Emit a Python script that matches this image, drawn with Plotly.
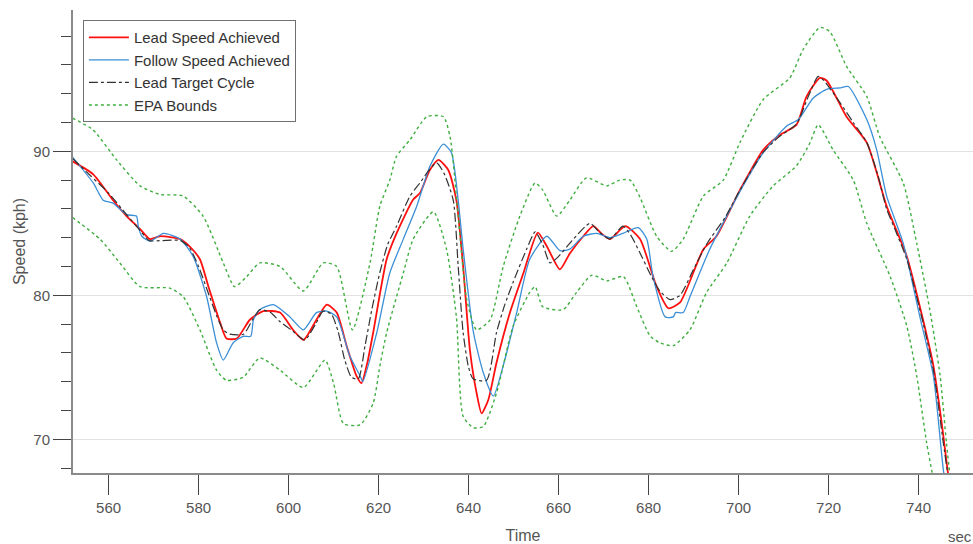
import plotly.graph_objects as go

# ---- data ----
target_time = [552, 556, 560, 564, 567, 569, 572, 576, 578, 580, 582, 584, 585.5, 587, 590, 592, 593.6, 596, 598, 601,
               603.6, 606, 607.7, 609.5, 611, 612.5, 614, 615.5, 617, 618.5, 620.3, 622, 624, 627, 629.2, 631, 632.9,
               634.5, 636.6, 637.7, 638.8, 640, 641, 644, 646.2, 648, 649.9, 652.9, 654.8, 656.5, 658.1, 660, 663,
               667, 669, 671.4, 674.3, 676, 678, 680.5, 682.5, 684.8, 687, 690, 693, 697, 700.3, 705.4, 709, 712.9,
               715.5, 717.7, 719, 722.5, 725.5, 728.5, 731, 732.9, 735, 737.4, 739, 741, 743.3, 745.5, 747]
target_speed = [89.5, 88.3, 87.1, 85.6, 84.5, 83.8, 83.8, 83.8, 83.3, 82.0, 80.3, 78.6, 77.6, 77.3, 77.3, 78.3, 79.0,
                78.8, 78.2, 77.5, 76.9, 78.0, 78.9, 78.7, 77.5, 75.5, 74.3, 74.2, 76.5, 79.0, 81.6, 83.5, 84.8, 86.9,
                87.8, 88.6, 89.2, 88.5, 86.6, 82.0, 77.4, 75.0, 74.2, 74.1, 77.4, 79.3, 80.9, 83.2, 84.4, 83.5, 82.25,
                82.7, 83.8, 85.0, 84.4, 83.9, 84.8, 84.2, 83.0, 81.4, 80.3, 79.7, 80.0, 81.8, 83.6, 85.4, 87.3, 89.9,
                91.0, 91.9, 93.8, 95.2, 94.9, 93.4, 92.0, 90.6, 88.3, 86.0, 84.4, 82.5, 80.6, 78.1, 74.8, 69.75, 66.5]

lead_time = [552, 556.6, 561, 564, 567, 569.2, 571.4, 575.9, 578, 580.3, 582.2, 584.8, 586.2, 588.5, 591.4, 594.4,
             598.1, 601, 603.3, 606.2, 608.5, 610.7, 612.9, 615.1, 616.2, 617.5, 618.8, 621.8, 624, 627.7, 629.2,
             631.4, 633.3, 635.5, 637.3, 638.8, 640.3, 641.8, 642.9, 644.4, 646.2, 649.2, 652.2, 655.4, 657.4, 660.3,
             662.5, 665.5, 667.7, 669.5, 671.4, 674.8, 678.1, 681.8, 684.4, 687, 692.2, 695.1, 700.3, 705.5, 709,
             712.9, 715.1, 718.1, 719.6, 724, 728.5, 732.9, 737.4, 741, 743.3, 745.2, 747.2]
lead_speed = [89.3, 88.4, 86.6, 85.5, 84.6, 83.9, 84.1, 83.9, 83.4, 82.5, 80.6, 78.1, 77.0, 77.0, 78.3, 78.9, 78.8,
              77.6, 76.9, 78.3, 79.35, 78.8, 76.5, 74.4, 73.9, 75.3, 77.4, 82.5, 84.3, 86.65, 87.1, 88.7, 89.4, 88.7,
              86.6, 82.0, 76.2, 73.2, 71.8, 72.75, 75.3, 78.8, 81.55, 84.35, 83.4, 81.8, 82.9, 84.1, 84.8, 84.3, 83.9,
              84.8, 83.9, 80.6, 79.1, 79.5, 83.2, 84.1, 87.3, 90.1, 91.1, 91.85, 93.8, 95.1, 94.9, 92.4, 90.6, 86.2,
              82.7, 78.3, 75.1, 71.0, 66.0]

follow_time = [552, 556.6, 558.8, 561, 564, 566.2, 566.6, 567.4, 569.2, 572.2, 575.9, 578.8, 581.8, 584, 585.5,
               587.7, 589.9, 591.6, 592.2, 593.6, 596.6, 600.3, 603.3, 606.2, 608.5, 610.7, 613.6, 615.9, 616.5,
               619.6, 622.5, 625.5, 628.5, 631.4, 634.4, 636.2, 637.7, 638.8, 641.1, 643.3, 645.5, 647.7, 650.7,
               653.6, 657.4, 660.3, 662.5, 665.5, 668.5, 671.4, 674.3, 677.7, 679.6, 681, 683.7, 685.5, 686, 687.7,
               689.2, 693.6, 700.3, 705.5, 710.7, 713.3, 716.6, 719.6, 722.5, 724.4, 728.5, 730.7, 732.9, 736.6,
               740.3, 743.3, 745.5, 746.5]
follow_speed = [89.6, 87.8, 86.6, 86.4, 85.6, 85.5, 84.8, 84.1, 83.75, 84.3, 83.9, 82.7, 79.9, 76.7, 75.5, 76.7,
                77.15, 77.15, 78.3, 79.0, 79.35, 78.5, 77.6, 78.8, 78.9, 78.5, 75.8, 74.4, 74.0, 77.4, 81.55, 83.9,
                86.2, 88.95, 90.5, 89.9, 86.6, 83.2, 77.4, 74.6, 73.0, 75.1, 78.8, 82.5, 84.1, 83.1, 83.2, 84.1, 84.3,
                84.0, 84.3, 84.7, 83.9, 81.3, 78.5, 78.5, 78.8, 78.8, 79.9, 83.2, 87.2, 89.9, 91.75, 92.2, 93.7, 94.3,
                94.4, 94.5, 92.2, 90.1, 86.9, 83.6, 78.5, 74.4, 67.9, 66.0]

upper_time = [552, 556.5, 561.8, 567, 571.4, 576.5, 581, 585.5, 588, 590.7, 593.6, 598.1, 603.3, 607.7, 610.7,
              614.2, 618.1, 620.3, 622.5, 624, 627, 630.7, 634.4, 635.9, 637.7, 639.6, 641.8, 644.8, 647.7, 651.4,
              654.8, 656.5, 659.6, 662.5, 666.2, 670.7, 673.6, 675.9, 678.1, 681.8, 685.1, 687.7, 692.2, 696.6,
              700.3, 705.5, 711.4, 714.4, 718.1, 720.3, 724, 728.5, 731.4, 736.6, 739.6, 742.5, 744.8, 746.2, 747.5]
upper_speed = [92.3, 91.5, 89.4, 87.6, 87.0, 86.9, 85.5, 82.25, 80.6, 81.3, 82.25, 82.0, 80.3, 82.25, 82.0, 77.6,
               82.25, 86.2, 88.0, 89.65, 90.8, 92.4, 92.4, 91.0, 85.5, 79.7, 77.6, 78.3, 82.0, 85.5, 87.8, 87.3, 85.5,
               86.6, 88.15, 87.6, 88.0, 88.0, 86.8, 84.1, 83.05, 83.9, 86.9, 88.0, 90.6, 93.6, 95.1, 97.1, 98.6, 98.3,
               95.9, 93.8, 91.0, 87.8, 83.6, 79.0, 74.4, 69.75, 66.0]

lower_time = [552, 558.1, 562.5, 567, 573.6, 576.6, 580.3, 584, 586.2, 589.9, 593.6, 598.1, 603.3, 608.1, 610,
              612.2, 615.9, 618.8, 620.3, 621.8, 625.5, 627.7, 632.2, 635.1, 637.3, 638.8, 641.1, 643.3, 646.2,
              649.9, 653.6, 654.8, 656.5, 661, 664, 667.4, 670.7, 674.4, 677.4, 680.3, 682.5, 685.5, 689.2, 692.9,
              697.4, 702.5, 707.7, 712.9, 715.9, 717.7, 721, 725.5, 728.5, 733.7, 737.4, 739.6, 741.8, 743, 744]
lower_speed = [85.4, 83.9, 82.25, 80.6, 80.5, 79.9, 77.6, 74.8, 74.1, 74.3, 75.65, 74.8, 73.6, 75.5, 73.9, 71.1,
               71.0, 72.5, 75.1, 77.4, 81.55, 83.9, 85.8, 83.2, 78.5, 71.6, 70.8, 70.9, 73.2, 77.85, 80.2, 80.6, 79.2,
               79.0, 80.2, 81.4, 81.0, 81.3, 79.2, 77.2, 76.7, 76.5, 77.6, 80.2, 82.25, 85.5, 87.6, 89.0, 90.6, 91.85,
               90.1, 88.0, 85.0, 81.3, 77.85, 74.4, 69.75, 67.7, 66.0]

x_ticks = [560, 580, 600, 620, 640, 660, 680, 700, 720, 740]

FONT = "Liberation Sans, Arial, sans-serif"
EPA_COLOR = "#3fae3f"
SMOOTH = 0.6

fig = go.Figure()
fig.add_trace(go.Scatter(x=lead_time, y=lead_speed, mode="lines", name="Lead Speed Achieved",
                         legendgroup="a", line=dict(color="#ff1010", width=1.8, shape="spline", smoothing=SMOOTH)))
fig.add_trace(go.Scatter(x=follow_time, y=follow_speed, mode="lines", name="Follow Speed Achieved",
                         legendgroup="b", line=dict(color="#3b8fd6", width=1.3, shape="spline", smoothing=SMOOTH)))
fig.add_trace(go.Scatter(x=target_time, y=target_speed, mode="lines", name="Lead Target Cycle",
                         legendgroup="c", line=dict(color="#333333", width=1.2, dash="dashdot",
                                                    shape="spline", smoothing=SMOOTH)))
fig.add_trace(go.Scatter(x=upper_time, y=upper_speed, mode="lines", name="EPA Bounds",
                         legendgroup="d", line=dict(color=EPA_COLOR, width=1.4, dash="dot",
                                                    shape="spline", smoothing=SMOOTH)))
fig.add_trace(go.Scatter(x=lower_time, y=lower_speed, mode="lines", name="EPA Bounds", showlegend=False,
                         legendgroup="d", line=dict(color=EPA_COLOR, width=1.4, dash="dot",
                                                    shape="spline", smoothing=SMOOTH)))

fig.update_layout(
    width=973, height=544,
    margin=dict(l=73, r=0, t=10, b=71),
    paper_bgcolor="white", plot_bgcolor="white",
    font=dict(family=FONT, size=14, color="#555555"),
    showlegend=True,
    legend=dict(x=0.011, y=0.978, xanchor="left", yanchor="top",
                bgcolor="white", bordercolor="#707070", borderwidth=1,
                font=dict(family=FONT, size=15, color="#333333"),
                tracegroupgap=0, traceorder="grouped", itemwidth=40),
    annotations=[dict(text="sec", xref="paper", yref="paper", x=0.9856, y=-0.138,
                      xanchor="center", yanchor="middle",
                      showarrow=False, font=dict(family=FONT, size=15, color="#555555"))],
)

fig.update_xaxes(
    range=[552.1, 752.1], tickvals=x_ticks, ticks="outside", ticklen=20, tickwidth=1,
    tickcolor="#444444", showgrid=False, zeroline=False, automargin=False,
    showline=True, linecolor="#8a8a8a", linewidth=2,
    tickfont=dict(family=FONT, size=15, color="#555555"),
    title=dict(text="Time", standoff=15, font=dict(family=FONT, size=16, color="#555555")),
)
fig.update_yaxes(
    range=[67.66, 99.81], tick0=70, dtick=10, ticks="outside", ticklen=18, tickwidth=1,
    tickcolor="#444444", showgrid=True, gridcolor="#e2e2e2", gridwidth=1, zeroline=False, automargin=False,
    showline=True, linecolor="#8a8a8a", linewidth=2,
    minor=dict(tick0=70, dtick=2, ticks="outside", ticklen=10, tickcolor="#444444", showgrid=False),
    tickfont=dict(family=FONT, size=15, color="#555555"),
    title=dict(text="Speed (kph)", standoff=4, font=dict(family=FONT, size=16, color="#555555")),
)

fig.write_html("out.html", config={"displayModeBar": False},
               post_script="document.body.style.margin='0';document.body.style.overflow='hidden';")
